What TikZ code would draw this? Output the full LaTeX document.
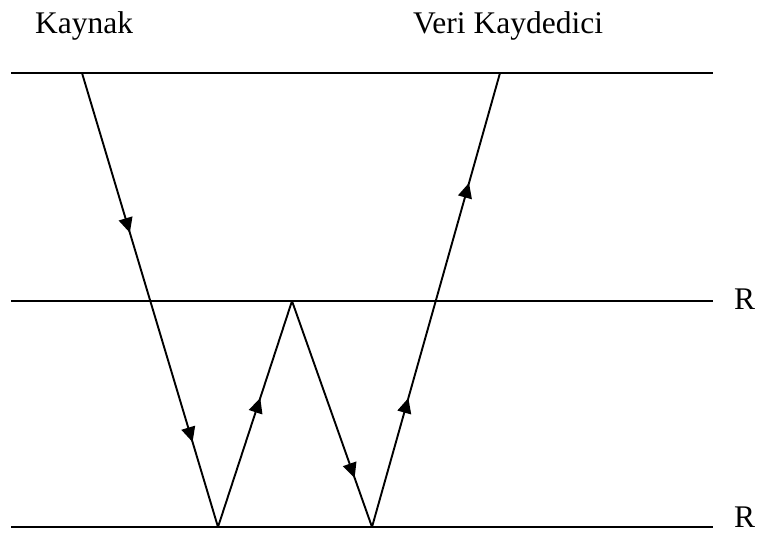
\documentclass[tikz,border=0pt]{standalone}
\usepackage{fontspec}
\setmainfont{Liberation Serif}
\usetikzlibrary{arrows.meta,decorations.markings}
\tikzset{
  surface/.style={line width=2pt},
  ray/.style={line width=1.9pt},
  arr/.style={postaction={decorate,decoration={markings,
      mark=at position #1 with {\arrow{Triangle[length=15pt,width=14pt]}}}}},
  lbl/.style={anchor=base west,inner sep=0pt,text depth=0pt,font=\fontsize{31.5}{36}\selectfont}
}
\begin{document}
\begin{tikzpicture}[x=1pt,y=-1pt]
\useasboundingbox (0,0) rectangle (759,533);
% surfaces
\coordinate (L1a) at (11,73);  \coordinate (L1b) at (713,73);
\coordinate (L2a) at (11,301); \coordinate (L2b) at (713,301);
\coordinate (L3a) at (11,527); \coordinate (L3b) at (713,527);
\draw[surface] (L1a) -- (L1b);
\draw[surface] (L2a) -- (L2b);
\draw[surface] (L3a) -- (L3b);
% labels
\node[lbl] (kaynak) at (35,33) {Kaynak};
\node[lbl] (veri) at (413,33) {Veri Kaydedici};
\node[lbl] (r1) at (734,309) {R};
\node[lbl] (r2) at (734,527) {R};
% ray path
\coordinate (S) at (82,73);
\coordinate (B1) at (218,527);
\coordinate (A) at (292,301);
\coordinate (B2) at (372,527);
\coordinate (E) at (500,73);
\draw[ray,arr=0.352,arr=0.813] (S) -- (B1);
\draw[ray,arr=0.571] (B1) -- (A);
\draw[ray,arr=0.783] (A) -- (B2);
\draw[ray,arr=0.284,arr=0.758] (B2) -- (E);
\end{tikzpicture}
\end{document}
